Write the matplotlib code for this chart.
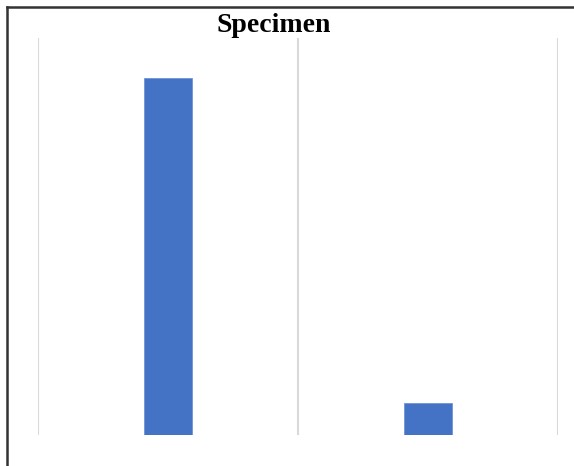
import matplotlib.pyplot as plt
from matplotlib.lines import Line2D

categories = ["A", "B"]
values = [90, 8]
title = "Specimen"

fig = plt.figure(figsize=(5.74, 4.66), dpi=100)
ax = fig.add_axes([38 / 574, 31 / 466, 520 / 574, 397 / 466])

x = list(range(len(categories)))
ax.bar(x, values, width=0.185, color="#4472C4", edgecolor="#6f94d8", linewidth=0.6, zorder=3)

ax.set_xlim(-0.5, len(categories) - 0.5)
ax.set_ylim(0, 100)
for b in [-0.5, 0.5, 1.5]:
    ax.axvline(b, color="#d9d9d9", linewidth=1.5, zorder=1)

ax.set_xticks([])
ax.set_yticks([])
for spine in ax.spines.values():
    spine.set_visible(False)

fig.text(274 / 574, 1 - 32 / 466, title, ha="center", va="baseline",
         fontsize=20, fontweight="bold", family="Liberation Serif")

# frame on top and left edges only
fig.add_artist(Line2D([7 / 574, 1], [1 - 7 / 466, 1 - 7 / 466], color="#333333", linewidth=1.8))
fig.add_artist(Line2D([7 / 574, 7 / 574], [0, 1 - 7 / 466], color="#333333", linewidth=1.8))

fig.savefig("out.png", dpi=100)
